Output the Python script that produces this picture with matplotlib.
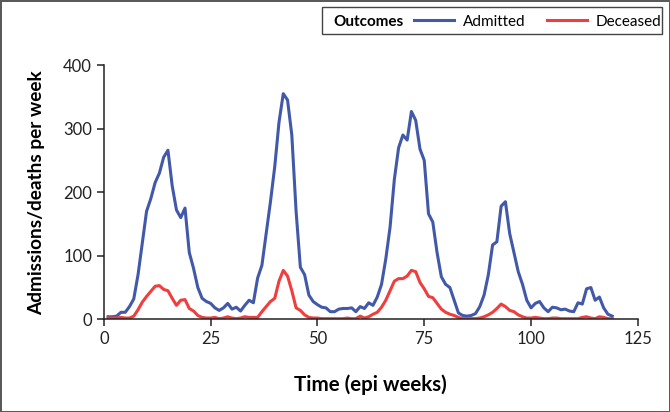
import matplotlib.pyplot as plt
import numpy as np
from matplotlib.lines import Line2D
from matplotlib.patches import Rectangle

plt.rcParams['font.family'] = ['Lato', 'DejaVu Sans']

# weekly counts, epi weeks 1..119
weeks = np.arange(1, 120)
admitted = [4, 4, 5, 11, 11, 20, 32, 70, 120, 170,
            190, 215, 230, 255, 266, 210, 172, 160, 175, 105,
            80, 50, 33, 28, 25, 18, 14, 18, 25, 16,
            19, 13, 22, 30, 26, 65, 85, 135, 185, 240,
            310, 355, 345, 290, 170, 82, 70, 38, 28, 23,
            19, 18, 12, 12, 16, 17, 17, 18, 12, 20,
            17, 26, 22, 35, 55, 95, 145, 220, 270, 290,
            282, 327, 313, 268, 250, 166, 153, 105, 67, 55,
            50, 30, 10, 6, 5, 6, 9, 20, 38, 70,
            117, 122, 178, 185, 135, 105, 75, 55, 30, 18,
            25, 28, 18, 12, 19, 18, 15, 16, 13, 12,
            26, 24, 48, 50, 30, 35, 18, 8, 5]
deceased = [2, 2, 2, 3, 2, 2, 5, 15, 27, 36,
            44, 52, 53, 47, 45, 33, 22, 30, 31, 17,
            13, 6, 3, 2, 2, 3, 1, 2, 4, 2,
            1, 2, 4, 3, 3, 3, 12, 20, 28, 33,
            60, 77, 68, 45, 18, 14, 7, 3, 2, 2,
            1, 1, 1, 1, 1, 1, 2, 1, 1, 5,
            2, 4, 8, 11, 19, 30, 45, 60, 64, 64,
            68, 77, 75, 58, 48, 36, 34, 25, 16, 11,
            8, 6, 3, 1, 1, 1, 1, 2, 4, 7,
            11, 17, 24, 20, 14, 12, 7, 4, 2, 2,
            3, 2, 1, 1, 2, 2, 1, 1, 1, 1,
            1, 3, 4, 2, 1, 4, 3, 1, 1]
xticks = [0, 25, 50, 75, 100, 125]
yticks = [0, 100, 200, 300, 400]

blue = '#4159A8'
red = '#F03E3E'

fig = plt.figure(figsize=(6.7, 4.12), dpi=100, facecolor='w', edgecolor='#5a5a5a', linewidth=2)
ax = fig.add_axes([0.155, 0.225, 0.797, 0.617])

ax.plot(weeks, admitted, color=blue, lw=2.2, solid_joinstyle='round')
ax.plot(weeks, deceased, color=red, lw=2.2, solid_joinstyle='round')

ax.set_xlim(0, 125)
ax.set_ylim(0, 400)
ax.set_xticks(xticks)
ax.set_yticks(yticks)
ax.tick_params(axis='both', labelsize=12, length=5, width=1.1, color='#222222', labelcolor='#222222')
for s in ['top', 'right']:
    ax.spines[s].set_visible(False)
for s in ['left', 'bottom']:
    ax.spines[s].set_linewidth(1.1)
    ax.spines[s].set_color('#222222')

ax.set_xlabel('Time (epi weeks)', fontsize=14.8, fontweight='bold', labelpad=20)
ax.set_ylabel('Admissions/deaths per week', fontsize=13.7, fontweight='bold', labelpad=13)

# legend box across the top right
fig.patches.append(Rectangle((322 / 670, 1 - 34 / 412), 340 / 670, 27 / 412,
                             transform=fig.transFigure, fill=False,
                             edgecolor='#444444', lw=1.0))
fig.text(333 / 670, 1 - 21.5 / 412, 'Outcomes', fontsize=11, fontweight='bold', va='center')
handles = [Line2D([], [], color=blue, lw=2.2), Line2D([], [], color=red, lw=2.2)]
fig.legend(handles, ['Admitted', 'Deceased'], ncol=2, frameon=False, fontsize=11,
           loc='center left', bbox_to_anchor=(414 / 670, 1 - 21.5 / 412),
           handlelength=2.6, columnspacing=1.4, handletextpad=0.6,
           borderaxespad=0, borderpad=0)

fig.savefig('out.png', dpi=100)
